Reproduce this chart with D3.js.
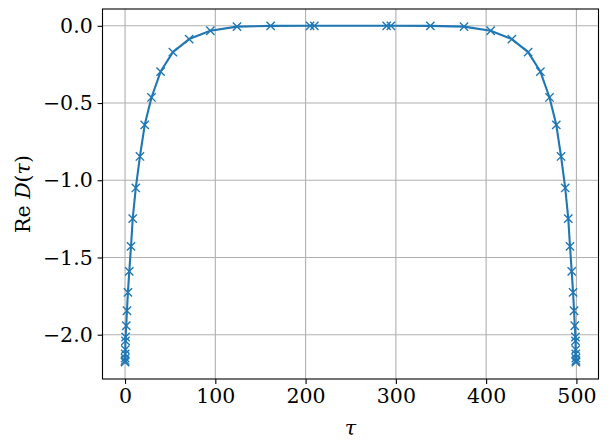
<!DOCTYPE html>
<html lang="en">
	<head>
		<meta charset="utf-8">
		<title>D3: Re D(tau)</title>
		<script type="text/javascript" src="https://cdn.jsdelivr.net/npm/d3@7"></script>
		<style type="text/css">
		body { margin: 0; background: #fff; }
		text { font-family: "DejaVu Serif", serif; fill: #000; }
		.grid line { stroke: #b0b0b0; stroke-width: 1.1; }
		</style>
	</head>
	<body>
		<script type="text/javascript">

		//Width and height
		var w = 608;
		var h = 448;
		var padL = 102.5, padT = 9, pw = 496, ph = 370;

		//Sampling points (tau) and Re D(tau)
		var tau = [0.0, 0.04, 0.1, 0.2, 0.3, 0.5, 0.6, 1.35, 2.1, 3.2, 4.7, 6.6, 8.5, 11.9, 16.5, 21.8, 29.3, 39.4, 53.0, 71.0, 94.5, 124.0, 161.3, 205.0, 209.7,
			289.8, 294.5, 338.2, 375.5, 405.0, 428.5, 446.5, 460.1, 470.2, 477.7, 483.0, 487.6, 491.0, 492.9, 494.8, 496.3, 497.4, 498.15, 498.9, 499.0, 499.2, 499.3, 499.4, 499.46, 499.5];
		var reD = [-2.178, -2.168, -2.152, -2.125, -2.097, -2.040, -2.015, -1.942, -1.845, -1.726, -1.590, -1.428, -1.249, -1.050, -0.846, -0.641, -0.464, -0.296, -0.170, -0.086, -0.032, -0.005, -0.0005, 0.0, 0.0,
			0.0, 0.0, -0.0005, -0.005, -0.032, -0.086, -0.170, -0.296, -0.464, -0.641, -0.846, -1.050, -1.249, -1.428, -1.590, -1.726, -1.845, -1.942, -2.015, -2.040, -2.097, -2.125, -2.152, -2.168, -2.178];

		//Tick values
		var xTicks = [0, 100, 200, 300, 400, 500];
		var yTicks = [-2.0, -1.5, -1.0, -0.5, 0.0];

		var data = tau.map(function(t, i) { return { x: t, y: reD[i] }; });

		//Matplotlib-like 5% margins
		function padded(ext) {
			var d = (ext[1] - ext[0]) * 0.05;
			return [ext[0] - d, ext[1] + d];
		}

		var x = d3.scaleLinear().domain(padded(d3.extent(tau))).range([padL, padL + pw]);
		var y = d3.scaleLinear().domain(padded(d3.extent(reD))).range([padT + ph, padT]);

		//Create SVG element
		var svg = d3.select("body")
					.append("svg")
					.attr("width", w)
					.attr("height", h);

		//Grid
		var grid = svg.append("g").attr("class", "grid");
		grid.selectAll(".gx").data(xTicks).enter().append("line")
			.attr("x1", function(d) { return x(d); }).attr("x2", function(d) { return x(d); })
			.attr("y1", padT).attr("y2", padT + ph);
		grid.selectAll(".gy").data(yTicks).enter().append("line")
			.attr("y1", function(d) { return y(d); }).attr("y2", function(d) { return y(d); })
			.attr("x1", padL).attr("x2", padL + pw);

		//Line
		var line = d3.line()
			.x(function(d) { return x(d.x); })
			.y(function(d) { return y(d.y); });

		svg.append("path")
			.datum(data)
			.attr("d", line)
			.attr("fill", "none")
			.attr("stroke", "#1f77b4")
			.attr("stroke-width", 2.1)
			.attr("stroke-linejoin", "round")
			.attr("stroke-linecap", "square");

		//'x' markers
		var m = 4.15;
		svg.selectAll(".mk")
			.data(data)
			.enter()
			.append("path")
			.attr("d", function(d) {
				var cx = x(d.x), cy = y(d.y);
				return "M" + (cx - m) + "," + (cy - m) + "L" + (cx + m) + "," + (cy + m) +
					"M" + (cx - m) + "," + (cy + m) + "L" + (cx + m) + "," + (cy - m);
			})
			.attr("stroke", "#1f77b4")
			.attr("stroke-width", 1.4)
			.attr("fill", "none");

		//Axes
		var xAxis = d3.axisBottom(x).tickValues(xTicks).tickFormat(d3.format("d")).tickSize(4.9).tickPadding(4.9);
		var yAxis = d3.axisLeft(y).tickValues(yTicks).tickFormat(d3.format(".1f")).tickSize(4.9).tickPadding(4.9);

		var gx = svg.append("g").attr("transform", "translate(0," + (padT + ph) + ")").call(xAxis);
		var gy = svg.append("g").attr("transform", "translate(" + padL + ",0)").call(yAxis);

		[gx, gy].forEach(function(g) {
			g.select(".domain").remove();
			g.selectAll(".tick line").attr("stroke", "#000").attr("stroke-width", 1.1);
			g.selectAll(".tick text").attr("font-size", "20.5px").attr("font-family", "DejaVu Serif").attr("fill", "#000");
		});

		//Frame
		svg.append("rect")
			.attr("x", padL).attr("y", padT)
			.attr("width", pw).attr("height", ph)
			.attr("fill", "none")
			.attr("stroke", "#000")
			.attr("stroke-width", 1.1);

		//Axis labels
		svg.append("text")
			.attr("x", padL + pw / 2)
			.attr("y", 435)
			.attr("text-anchor", "middle")
			.attr("font-size", "20.5px")
			.attr("font-style", "italic")
			.text("τ");

		var yl = svg.append("text")
			.attr("transform", "translate(30," + (padT + ph / 2) + ") rotate(-90)")
			.attr("text-anchor", "middle")
			.attr("font-size", "20.5px");
		yl.append("tspan").text("Re ");
		yl.append("tspan").attr("font-style", "italic").text("D");
		yl.append("tspan").text("(");
		yl.append("tspan").attr("font-style", "italic").text("τ");
		yl.append("tspan").text(")");

		</script>
	</body>
</html>
